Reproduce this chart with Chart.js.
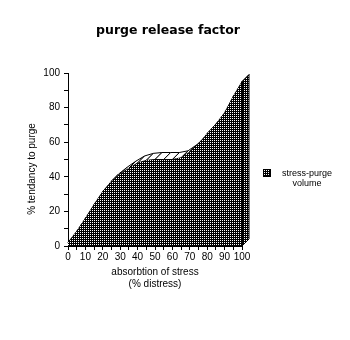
<!DOCTYPE html>
<html>
<head>
<meta charset="utf-8">
<title>purge release factor</title>
<script src="https://cdn.jsdelivr.net/npm/chart.js@4.4.0/dist/chart.umd.min.js"></script>
<style>
  html, body { margin: 0; padding: 0; background: #fff; }
</style>
</head>
<body>
<canvas id="chart" width="350" height="340"></canvas>
<script>
const chartTitle = "purge release factor";
const stressLevels = [0, 5, 10, 15, 20, 25, 30, 35, 40, 45, 50, 55, 60, 65, 70, 75, 80, 85, 90, 95, 100];
const purgeTendency = [2, 8.5, 16, 24, 31.5, 37.5, 41.5, 45, 48, 49.5, 50, 50, 50, 51, 54.5, 59, 65, 70.5, 77, 86.5, 95];
const seriesLabel = ["stress-purge", "volume"];
const xTitle = ["absorbtion of stress", "(% distress)"];
const yTitle = "% tendancy to purge";

const depth = 7;

// 2x2 tile: one white pixel on black, the old mac "dark dots" fill
const dots = (() => {
  const c = document.createElement("canvas");
  c.width = 2;
  c.height = 2;
  const g = c.getContext("2d");
  g.fillStyle = "#000";
  g.fillRect(0, 0, 2, 2);
  g.fillStyle = "#fff";
  g.fillRect(0, 0, 1, 1);
  return g.createPattern(c, "repeat");
})();

const box3d = {
  id: "box3d",
  beforeDatasetsDraw(chart) {
    const ctx = chart.ctx;
    const pts = chart.getDatasetMeta(0).data;
    ctx.save();
    ctx.lineWidth = 1;
    ctx.strokeStyle = "#000";
    ctx.fillStyle = "#fff";
    // top surface, one strip per segment
    for (let i = 0; i < pts.length - 1; i++) {
      const a = pts[i], b = pts[i + 1];
      ctx.beginPath();
      ctx.moveTo(a.x, a.y);
      ctx.lineTo(b.x, b.y);
      ctx.lineTo(b.x + depth, b.y - depth);
      ctx.lineTo(a.x + depth, a.y - depth);
      ctx.closePath();
      ctx.fill();
      ctx.stroke();
    }
    ctx.restore();
  },
  afterDatasetsDraw(chart) {
    const ctx = chart.ctx;
    const pts = chart.getDatasetMeta(0).data;
    const last = pts[pts.length - 1];
    const y0 = chart.scales.y.getPixelForValue(0);
    ctx.save();
    // right end face
    ctx.beginPath();
    ctx.moveTo(last.x, y0);
    ctx.lineTo(last.x, last.y);
    ctx.lineTo(last.x + depth, last.y - depth);
    ctx.lineTo(last.x + depth, y0 - depth);
    ctx.closePath();
    ctx.fillStyle = dots;
    ctx.fill();
    ctx.strokeStyle = "#000";
    ctx.lineWidth = 1;
    ctx.stroke();
    ctx.lineWidth = 2;
    ctx.beginPath();
    ctx.moveTo(last.x, y0);
    ctx.lineTo(last.x, last.y);
    ctx.stroke();
    ctx.restore();
  },
  afterDraw(chart) {
    const ctx = chart.ctx;
    const area = chart.chartArea;
    ctx.save();
    ctx.fillStyle = "#000";
    ctx.textAlign = "center";
    ctx.textBaseline = "middle";

    ctx.font = "bold 12.5px 'DejaVu Sans'";
    ctx.fillText(chartTitle, 168, 31);

    ctx.font = "10px 'Liberation Sans'";
    ctx.save();
    ctx.translate(32, 169);
    ctx.rotate(-Math.PI / 2);
    ctx.fillText(yTitle, 0, 0);
    ctx.restore();

    // legend
    const lx = area.right + 21, ly = 169;
    ctx.fillStyle = dots;
    ctx.fillRect(lx, ly, 7, 7);
    ctx.strokeStyle = "#000";
    ctx.lineWidth = 1;
    ctx.strokeRect(lx + 0.5, ly + 0.5, 7, 7);
    ctx.fillStyle = "#000";
    ctx.font = "9px 'Liberation Sans'";
    seriesLabel.forEach((t, i) => ctx.fillText(t, lx + 44, ly + 5 + i * 10));
    ctx.restore();
  }
};

Chart.defaults.font.family = "'Liberation Sans', sans-serif";
Chart.defaults.font.size = 10;
Chart.defaults.color = "#000";

new Chart(document.getElementById("chart"), {
  type: "line",
  data: {
    labels: stressLevels,
    datasets: [{
      label: seriesLabel.join(" "),
      data: stressLevels.map((x, i) => ({ x: x, y: purgeTendency[i] })),
      fill: "origin",
      backgroundColor: dots,
      borderWidth: 0,
      pointRadius: 0,
      tension: 0
    }]
  },
  options: {
    responsive: false,
    animation: false,
    events: [],
    layout: { padding: { top: 73, right: 108, bottom: 44, left: 0 } },
    plugins: {
      legend: { display: false },
      title: { display: false },
      tooltip: { enabled: false }
    },
    scales: {
      x: {
        type: "linear",
        min: 0,
        max: 100,
        afterFit: (s) => { s.height = 50; },
        border: { display: true, color: "#000", width: 1 },
        grid: { drawOnChartArea: false, drawTicks: true, tickLength: 4, color: "#000" },
        ticks: {
          stepSize: 5,
          autoSkip: false,
          maxRotation: 0,
          padding: 1,
          callback: (v) => (v % 10 === 0 ? v : "")
        },
        title: { display: true, text: xTitle, padding: { top: 4, bottom: 6 } }
      },
      y: {
        min: 0,
        max: 100,
        afterFit: (s) => { s.width = 68; },
        border: { display: true, color: "#000", width: 1 },
        grid: { drawOnChartArea: false, drawTicks: true, tickLength: 4, color: "#000" },
        ticks: {
          stepSize: 10,
          padding: 4,
          callback: (v) => (v % 20 === 0 ? v : "")
        }
      }
    }
  },
  plugins: [box3d]
});
</script>
</body>
</html>
